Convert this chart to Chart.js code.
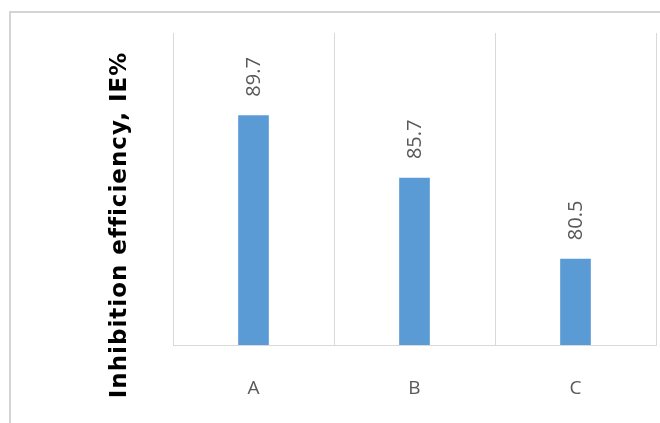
<!DOCTYPE html>
<html>
<head>
<meta charset="utf-8">
<script src="https://cdn.jsdelivr.net/npm/chart.js@4/dist/chart.umd.min.js"></script>
<style>
  html, body { margin: 0; padding: 0; background: #fff; }
  canvas { display: block; }
</style>
</head>
<body>
<canvas id="ieChart" width="660" height="423"></canvas>
<script>
// --- data ---
const samples = ['A', 'B', 'C'];
const efficiency = [89.7, 85.7, 80.5];
const yRange = [75, 95];
const yTitle = 'Inhibition efficiency, IE%';

const gridGray = '#d9d9d9';
const labelGray = '#595959';

// thin frame round the chart area (only top/left edges show)
const frame = {
    id: 'frame',
    beforeDraw(chart) {
        const c = chart.ctx;
        c.save();
        c.strokeStyle = '#d4d4d4';
        c.lineWidth = 2;
        c.strokeRect(10, 12, 700, 500);
        c.restore();
    }
};

// value above each bar, rotated
const barValues = {
    id: 'barValues',
    afterDatasetsDraw(chart) {
        const c = chart.ctx;
        const meta = chart.getDatasetMeta(0);
        c.save();
        c.fillStyle = labelGray;
        c.font = '20px "Open Sans"';
        c.textAlign = 'left';
        c.textBaseline = 'middle';
        meta.data.forEach((bar, i) => {
            c.save();
            c.translate(bar.x + 1, bar.y - 19);
            c.rotate(-Math.PI / 2);
            c.fillText(efficiency[i].toFixed(1), 0, 0);
            c.restore();
        });
        c.restore();
    }
};

// bold vertical axis title
const axisTitle = {
    id: 'axisTitle',
    afterDraw(chart) {
        const c = chart.ctx;
        c.save();
        c.fillStyle = '#000';
        c.font = 'bold 23px "DejaVu Sans"';
        c.letterSpacing = '1px';
        c.textAlign = 'center';
        c.textBaseline = 'middle';
        c.translate(120, 225);
        c.rotate(-Math.PI / 2);
        c.fillText(yTitle, 0, 0);
        c.restore();
    }
};

new Chart(document.getElementById('ieChart'), {
    type: 'bar',
    data: {
        labels: samples,
        datasets: [{
            data: efficiency,
            backgroundColor: '#5b9bd5',
            barThickness: 30
        }]
    },
    options: {
        responsive: false,
        animation: false,
        layout: { padding: { left: 173, right: 4, top: 33, bottom: 23 } },
        scales: {
            x: {
                grid: { color: gridGray, drawTicks: false },
                border: { color: gridGray },
                ticks: {
                    color: labelGray,
                    font: { family: 'Open Sans', size: 19 },
                    padding: 32
                },
                afterFit(scale) { scale.height = 55; }
            },
            y: {
                display: false,
                min: yRange[0],
                max: yRange[1]
            }
        },
        plugins: {
            legend: { display: false },
            tooltip: { enabled: false }
        }
    },
    plugins: [frame, barValues, axisTitle]
});
</script>
</body>
</html>
